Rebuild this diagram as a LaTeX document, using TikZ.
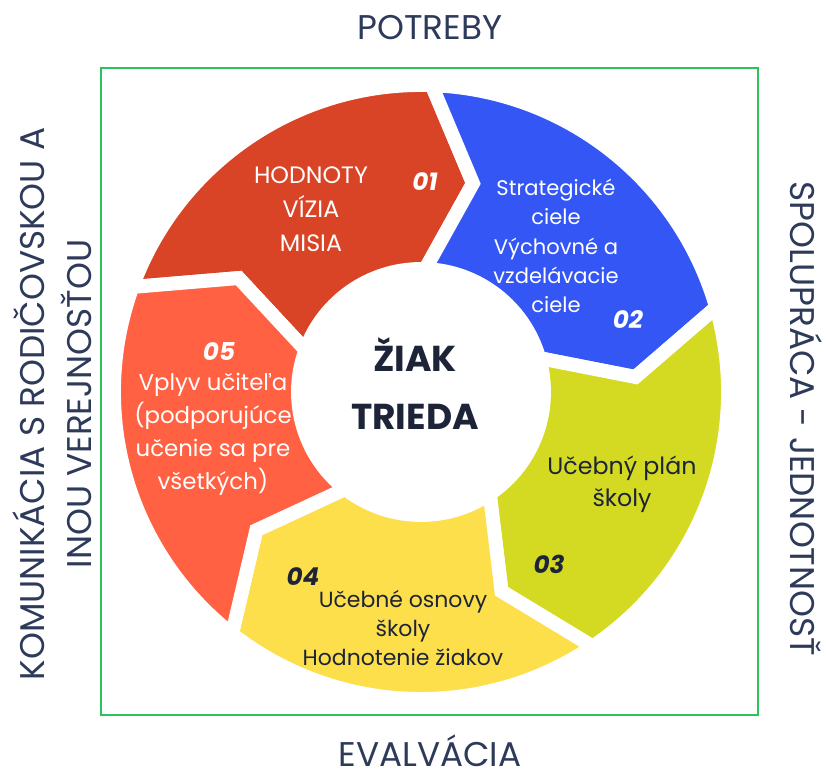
\documentclass[tikz,border=0pt]{standalone}
\usepackage{fontspec}
\setmainfont{Poppins}
\usetikzlibrary{positioning}
\definecolor{hodnoty}{HTML}{D94426}
\definecolor{ciele}{HTML}{3456F4}
\definecolor{plan}{HTML}{D4DA22}
\definecolor{osnovy}{HTML}{FDDF4B}
\definecolor{vplyv}{HTML}{FF6142}
\definecolor{navy}{HTML}{2D3A5A}
\definecolor{ink}{HTML}{1E2438}
\definecolor{ramec}{HTML}{2CC25C}
\tikzset{
  seg/.style={draw=white,line width=7.9pt,line join=miter},
  segtext/.style={align=center,font=\fontsize{12.5}{18}\selectfont},
  num/.style={font=\fontsize{14}{14}\selectfont\bfseries\itshape},
  side/.style={text=navy,font=\fontsize{19.5}{26.6}\selectfont},
  ramecek/.style={draw=ramec,line width=1.4pt}
}
\begin{document}
\begin{tikzpicture}[x=0.02cm,y=0.02cm]
\useasboundingbox(-421,-389)rectangle(405,392);
\def\Ro{307}\def\Ri{123}\def\Rm{215}\def\tp{12}
% frame
\draw[ramecek](-320,324)rectangle(337,-323);
% five arrows of the cycle
\foreach \b/\col in {160/hodnoty,88/ciele,16/plan,-56/osnovy,-128/vplyv}{
  \path[seg,fill=\col](\b:\Ro)arc[start angle=\b,end angle=\b-72,radius=\Ro]
    --(\b-72-\tp:\Rm)--(\b-72:\Ri)arc[start angle=\b-72,end angle=\b,radius=\Ri]--(\b-\tp:\Rm)--cycle;
}
% centre
\node[text=ink,font=\fontsize{20.5}{33}\selectfont\bfseries,align=center](ziak)at(-6,8){ŽIAK\\TRIEDA};
% texts in the arrows
\node[segtext,text=white,font=\fontsize{13.5}{19.3}\selectfont](hodnoty)at(-110,183){HODNOTY\\VÍZIA\\MISIA};
\node[num,text=white](n1)at(4,210){01};
\node[segtext,text=white,font=\fontsize{12}{16.7}\selectfont](ciele)at(135,146){Strategické\\ciele\\Výchovné a\\vzdelávacie\\ciele};
\node[num,text=white](n2)at(207,72){02};
\node[segtext,text=ink,font=\fontsize{13.5}{18}\selectfont](plan)at(201,-92){Učebný plán\\školy};
\node[num,text=ink](n3)at(128,-172){03};
\node[num,text=ink](n4)at(-118,-185){04};
\node[segtext,text=ink,font=\fontsize{12.5}{16.4}\selectfont](osnovy)at(-18,-236){Učebné osnovy\\školy\\Hodnotenie žiakov};
\node[num,text=white](n5)at(-202,40){05};
\node[segtext,text=white,font=\fontsize{13}{18.7}\selectfont](vplyv)at(-208,-42){Vplyv učiteľa\\(podporujúce\\učenie sa pre\\všetkých)};
% labels round the frame
\node[side](potreby)at(9,364){POTREBY};
\node[side](evalvacia)at(9,-359){EVALVÁCIA};
\node[side,align=center,rotate=90](komunikacia)at(-369,-12){KOMUNIKÁCIA S RODIČOVSKOU A\\INOU VEREJNOSŤOU};
\node[side,rotate=-90](spolupraca)at(385,-27){SPOLUPRÁCA - JEDNOTNOSŤ};
\end{tikzpicture}
\end{document}
